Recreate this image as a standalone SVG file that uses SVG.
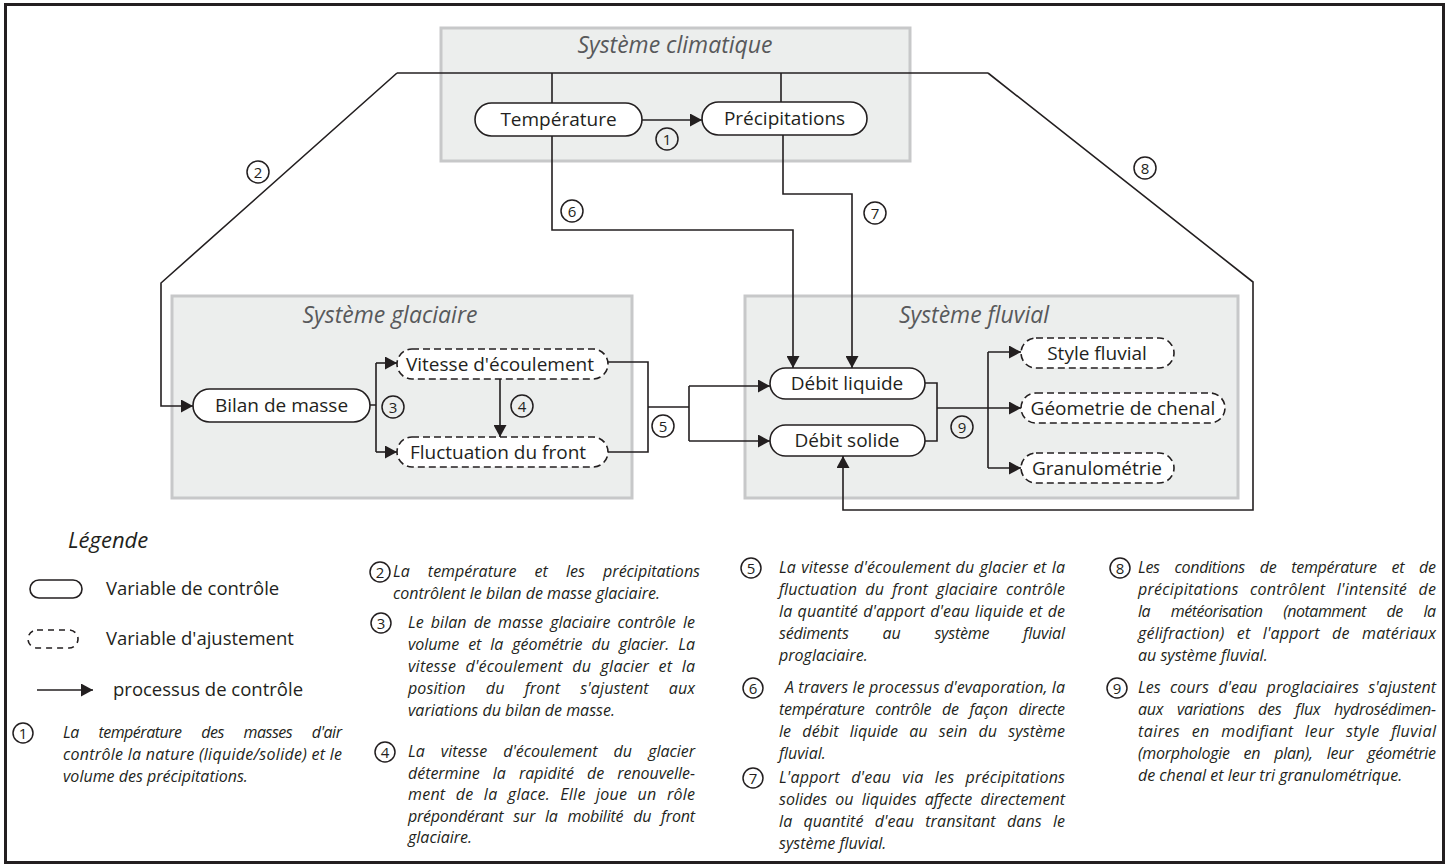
<svg xmlns="http://www.w3.org/2000/svg" width="1448" height="867" viewBox="0 0 1448 867">
<defs>
<marker id="ah" markerWidth="13" markerHeight="13" refX="12" refY="6.5" orient="auto" markerUnits="userSpaceOnUse"><path d="M0,0 L12,6.5 L0,13 z" fill="#231f20"/></marker>
<style>
.frame{fill:none;stroke:#231f20;stroke-width:3}
.sys{fill:#eceeed;stroke:#c7c8c9;stroke-width:3}
.systitle{font-family:'Open Sans',sans-serif;font-style:italic;font-size:23px;fill:#58595b;text-anchor:middle}
.ctrl{fill:#fff;stroke:#231f20;stroke-width:1.6}
.adj{fill:#fff;stroke:#231f20;stroke-width:1.6;stroke-dasharray:7 4}
.lbl{font-family:'Open Sans',sans-serif;font-size:19px;fill:#231f20;text-anchor:middle}
.conn{fill:none;stroke:#231f20;stroke-width:1.6}
.arr{marker-end:url(#ah)}
.nc{fill:none;stroke:#231f20;stroke-width:1.5}
.nt{font-family:'Open Sans',sans-serif;font-size:15px;fill:#231f20;text-anchor:middle}
.leg{font-family:'Open Sans',sans-serif;font-size:18.5px;fill:#231f20}
.legt{font-family:'Open Sans',sans-serif;font-style:italic;font-size:22px;fill:#231f20}
.d{font-family:'Open Sans',sans-serif;font-style:italic;font-size:16px;fill:#231f20}
</style>
</defs>
<rect width="1448" height="867" fill="#fff"/>
<rect class="frame" x="5.5" y="4.5" width="1438" height="858"/>

<g id="sys-climatique"><rect class="sys" x="441" y="28" width="469" height="133"/><text class="systitle" x="675" y="53">Système climatique</text></g>
<g id="sys-glaciaire"><rect class="sys" x="172" y="296" width="460" height="202"/><text class="systitle" x="390" y="323">Système glaciaire</text></g>
<g id="sys-fluvial"><rect class="sys" x="745" y="296" width="493" height="202"/><text class="systitle" x="974" y="323">Système fluvial</text></g>

<g id="connectors">
<path class="conn" d="M397,73 H988"/>
<path class="conn" d="M552,103 V73"/>
<path class="conn" d="M781,102 V73"/>
<path class="conn arr" d="M642,120 H702"/>
<path class="conn arr" d="M397,73 L161,283 V406 H193"/>
<path class="conn arr" d="M988,73 L1253,282 V510 H843 V456"/>
<path class="conn arr" d="M552,136 V230 H793 V368"/>
<path class="conn arr" d="M783,135 V194 H852 V368"/>
<path class="conn" d="M370,405 H376 M376,363 V452"/>
<path class="conn arr" d="M376,363 H397"/>
<path class="conn arr" d="M376,452 H397"/>
<path class="conn arr" d="M500,379 V437"/>
<path class="conn" d="M608,362 H648 V452 H608 M648,407 H689 M689,386 V441"/>
<path class="conn arr" d="M689,386 H770"/>
<path class="conn arr" d="M689,441 H770"/>
<path class="conn" d="M925,383 H937 V441 H925 M988,352 V468"/>
<path class="conn arr" d="M937,408 H1021"/>
<path class="conn arr" d="M988,352 H1021"/>
<path class="conn arr" d="M988,468 H1021"/>
</g>

<g id="node-temperature"><rect class="ctrl" x="475" y="103" width="167" height="33" rx="16.5"/><text class="lbl" x="558.5" y="126">Température</text></g>
<g id="node-precipitations"><rect class="ctrl" x="702" y="102" width="165" height="33" rx="16.5"/><text class="lbl" x="784.5" y="125">Précipitations</text></g>
<g id="node-bilan"><rect class="ctrl" x="193" y="389" width="177" height="33" rx="16.5"/><text class="lbl" x="281.5" y="412">Bilan de masse</text></g>
<g id="node-vitesse"><rect class="adj" x="397" y="349" width="211" height="30" rx="15"/><text class="lbl" x="500" y="371">Vitesse d'écoulement</text></g>
<g id="node-fluctuation"><rect class="adj" x="397" y="437" width="211" height="30" rx="15"/><text class="lbl" x="498" y="459">Fluctuation du front</text></g>
<g id="node-debit-liquide"><rect class="ctrl" x="770" y="368" width="155" height="31" rx="15.5"/><text class="lbl" x="847" y="390">Débit liquide</text></g>
<g id="node-debit-solide"><rect class="ctrl" x="770" y="425" width="155" height="31" rx="15.5"/><text class="lbl" x="847" y="447">Débit solide</text></g>
<g id="node-style"><rect class="adj" x="1021" y="338" width="153" height="30" rx="15"/><text class="lbl" x="1097" y="360">Style fluvial</text></g>
<g id="node-geometrie"><rect class="adj" x="1021" y="393" width="204" height="30" rx="15"/><text class="lbl" x="1123" y="415">Géometrie de chenal</text></g>
<g id="node-granulometrie"><rect class="adj" x="1021" y="453" width="153" height="30" rx="15"/><text class="lbl" x="1097" y="475">Granulométrie</text></g>

<g id="process-numbers">
<circle class="nc" cx="667" cy="139" r="11"/><text class="nt" x="667" y="144.5">1</text>
<circle class="nc" cx="258" cy="172" r="11"/><text class="nt" x="258" y="177.5">2</text>
<circle class="nc" cx="393" cy="407" r="11"/><text class="nt" x="393" y="412.5">3</text>
<circle class="nc" cx="522" cy="406" r="11"/><text class="nt" x="522" y="411.5">4</text>
<circle class="nc" cx="663" cy="426" r="11"/><text class="nt" x="663" y="431.5">5</text>
<circle class="nc" cx="572" cy="211" r="11"/><text class="nt" x="572" y="216.5">6</text>
<circle class="nc" cx="875" cy="213" r="11"/><text class="nt" x="875" y="218.5">7</text>
<circle class="nc" cx="1145" cy="168" r="11"/><text class="nt" x="1145" y="173.5">8</text>
<circle class="nc" cx="962" cy="427" r="11"/><text class="nt" x="962" y="432.5">9</text>
</g>

<g id="legend">
<text class="legt" x="68" y="548">Légende</text>
<rect class="ctrl" x="30" y="580" width="52" height="18" rx="9"/>
<text class="leg" x="106" y="595">Variable de contrôle</text>
<rect class="adj" x="28" y="630" width="50" height="18" rx="9" style="stroke-dasharray:6 5"/>
<text class="leg" x="106" y="645">Variable d'ajustement</text>
<path class="conn arr" d="M37,690 H93"/>
<text class="leg" x="113" y="696">processus de contrôle</text>
</g>

<g id="notes">
<circle class="nc" cx="23" cy="733" r="10"/><text class="nt" x="23" y="738.5">1</text>
<text class="d" x="63" y="738" textLength="279" lengthAdjust="spacing" word-spacing="16">La température des masses d'air</text>
<text class="d" x="63" y="760" textLength="279" lengthAdjust="spacing">contrôle la nature (liquide/solide) et le</text>
<text class="d" x="63" y="782">volume des précipitations.</text>

<circle class="nc" cx="380" cy="572" r="10"/><text class="nt" x="380" y="577.5">2</text>
<text class="d" x="393" y="577" textLength="307" lengthAdjust="spacing" word-spacing="14">La température et les précipitations</text>
<text class="d" x="393" y="599">contrôlent le bilan de masse glaciaire.</text>

<circle class="nc" cx="381" cy="623" r="10"/><text class="nt" x="381" y="628.5">3</text>
<text class="d" x="408" y="628" textLength="287" lengthAdjust="spacing" word-spacing="3">Le bilan de masse glaciaire contrôle le</text>
<text class="d" x="408" y="650" textLength="287" lengthAdjust="spacing" word-spacing="5">volume et la géométrie du glacier. La</text>
<text class="d" x="408" y="672" textLength="287" lengthAdjust="spacing" word-spacing="5">vitesse d'écoulement du glacier et la</text>
<text class="d" x="408" y="694" textLength="287" lengthAdjust="spacing" word-spacing="16">position du front s'ajustent aux</text>
<text class="d" x="408" y="716">variations du bilan de masse.</text>

<circle class="nc" cx="385" cy="752" r="10"/><text class="nt" x="385" y="757.5">4</text>
<text class="d" x="408" y="757" textLength="287" lengthAdjust="spacing" word-spacing="12">La vitesse d'écoulement du glacier</text>
<text class="d" x="408" y="779" textLength="287" lengthAdjust="spacing" word-spacing="9">détermine la rapidité de renouvelle-</text>
<text class="d" x="408" y="800" textLength="287" lengthAdjust="spacing" word-spacing="6">ment de la glace. Elle joue un rôle</text>
<text class="d" x="408" y="822" textLength="287" lengthAdjust="spacing" word-spacing="6">prépondérant sur la mobilité du front</text>
<text class="d" x="408" y="843">glaciaire.</text>

<circle class="nc" cx="751" cy="568" r="10"/><text class="nt" x="751" y="573.5">5</text>
<text class="d" x="779" y="573" textLength="286" lengthAdjust="spacing" word-spacing="1">La vitesse d'écoulement du glacier et la</text>
<text class="d" x="779" y="595" textLength="286" lengthAdjust="spacing" word-spacing="4">fluctuation du front glaciaire contrôle</text>
<text class="d" x="779" y="617" textLength="286" lengthAdjust="spacing" word-spacing="1">la quantité d'apport d'eau liquide et de</text>
<text class="d" x="779" y="639" textLength="286" lengthAdjust="spacing" word-spacing="30">sédiments au système fluvial</text>
<text class="d" x="779" y="661">proglaciaire.</text>

<circle class="nc" cx="753" cy="688" r="10"/><text class="nt" x="753" y="693.5">6</text>
<text class="d" x="785" y="693" textLength="280" lengthAdjust="spacing">A travers le processus d'evaporation, la</text>
<text class="d" x="779" y="715" textLength="286" lengthAdjust="spacing" word-spacing="7">température contrôle de façon directe</text>
<text class="d" x="779" y="737" textLength="286" lengthAdjust="spacing" word-spacing="7">le débit liquide au sein du système</text>
<text class="d" x="779" y="759">fluvial.</text>

<circle class="nc" cx="753" cy="778" r="10"/><text class="nt" x="753" y="783.5">7</text>
<text class="d" x="779" y="783" textLength="286" lengthAdjust="spacing" word-spacing="7">L'apport d'eau via les précipitations</text>
<text class="d" x="779" y="805" textLength="286" lengthAdjust="spacing" word-spacing="4">solides ou liquides affecte directement</text>
<text class="d" x="779" y="827" textLength="286" lengthAdjust="spacing" word-spacing="7">la quantité d'eau transitant dans le</text>
<text class="d" x="779" y="849">système fluvial.</text>

<circle class="nc" cx="1120" cy="568" r="10"/><text class="nt" x="1120" y="573.5">8</text>
<text class="d" x="1138" y="573" textLength="298" lengthAdjust="spacing" word-spacing="11">Les conditions de température et de</text>
<text class="d" x="1138" y="595" textLength="298" lengthAdjust="spacing" word-spacing="7">précipitations contrôlent l'intensité de</text>
<text class="d" x="1138" y="617" textLength="298" lengthAdjust="spacing" word-spacing="17">la météorisation (notamment de la</text>
<text class="d" x="1138" y="639" textLength="298" lengthAdjust="spacing" word-spacing="8">gélifraction) et l'apport de matériaux</text>
<text class="d" x="1138" y="661">au système fluvial.</text>

<circle class="nc" cx="1117" cy="688" r="10"/><text class="nt" x="1117" y="693.5">9</text>
<text class="d" x="1138" y="693" textLength="298" lengthAdjust="spacing" word-spacing="5">Les cours d'eau proglaciaires s'ajustent</text>
<text class="d" x="1138" y="715" textLength="298" lengthAdjust="spacing" word-spacing="10">aux variations des flux hydrosédimen-</text>
<text class="d" x="1138" y="737" textLength="298" lengthAdjust="spacing" word-spacing="7">taires en modifiant leur style fluvial</text>
<text class="d" x="1138" y="759" textLength="298" lengthAdjust="spacing" word-spacing="10">(morphologie en plan), leur géométrie</text>
<text class="d" x="1138" y="781">de chenal et leur tri granulométrique.</text>
</g>
</svg>
